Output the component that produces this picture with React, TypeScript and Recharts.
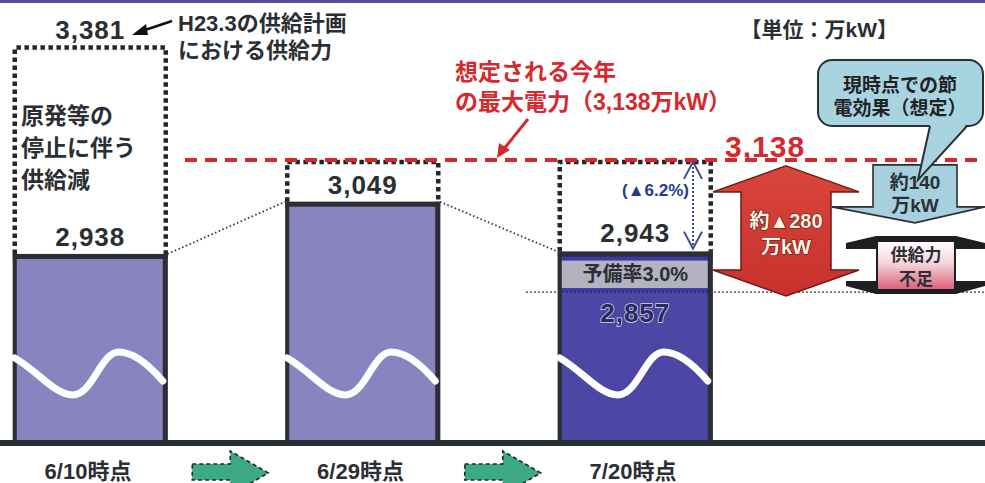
import React from "react"
import { ComposedChart, Bar, XAxis, YAxis, ReferenceLine, LabelList } from "recharts"

// 供給力の推移（単位：万kW）
const periods = ["6/10時点", "6/29時点", "7/20時点"]
const slots = [0, 1, 2]
const baseSupply = [2938, 3049, 2857]
const totalSupply = [2938, 3049, 2943]
const boxTops = [3381, 3138, 3138]
const peakDemand = 3138
const savingEffect = 140

const W = 985
const H = 483
const AXIS_H = 40
const PLOT_BOTTOM = H - AXIS_H
const Y_DOMAIN: [number, number] = [2536, 3478]
const X_DOMAIN: [number, number] = [-0.3303, 3.2844]
const BAR_W = 155
const HALF = ((BAR_W / 2) * (X_DOMAIN[1] - X_DOMAIN[0])) / W

const FONT = "'Liberation Sans', 'Noto Sans CJK JP', sans-serif"
const INK = "#2b2f33"
const RED = "#d7282e"

const fmt = (n: number) => n.toLocaleString("en-US")
const yOf = (v: number) =>
  PLOT_BOTTOM - ((v - Y_DOMAIN[0]) / (Y_DOMAIN[1] - Y_DOMAIN[0])) * PLOT_BOTTOM
const xOf = (s: number) => ((s - X_DOMAIN[0]) / (X_DOMAIN[1] - X_DOMAIN[0])) * W

const chartData = slots.map((slot, i) => {
  const reserve = totalSupply[i] - baseSupply[i]
  return {
    slot,
    base: baseSupply[i],
    reserve,
    gap: boxTops[i] - totalSupply[i],
    topLabel: reserve > 0 ? null : fmt(totalSupply[i]),
    innerLabel: reserve > 0 ? fmt(baseSupply[i]) : null,
    reserveLabel: reserve > 0 ? fmt(totalSupply[i]) : null,
    reserveRate: reserve > 0 ? `予備率${((reserve / baseSupply[i]) * 100).toFixed(1)}%` : null,
    boxLabel: i === 0 ? fmt(boxTops[i]) : null,
  }
})

function BaseShape(props: any) {
  const { x, y, width, height, payload } = props
  const bottom = Math.min(y + height, PLOT_BOTTOM)
  const h = bottom - y
  const dark = payload.reserve > 0
  const wave = `M${x + 2},${bottom - 85} C${x + 25},${bottom - 72} ${x + 42},${bottom - 48} ${x + 60},${bottom - 48} C${x + 80},${bottom - 48} ${x + 88},${bottom - 91} ${x + 106},${bottom - 91} C${x + 122},${bottom - 91} ${x + 138},${bottom - 76} ${x + width - 5},${bottom - 62}`
  return (
    <g>
      <rect x={x} y={y} width={width} height={h} fill={dark ? "#4c46a5" : "#8784c0"} />
      <rect x={x} y={y} width={4} height={h} fill={INK} />
      <rect x={x + width - 5} y={y} width={5} height={h} fill={INK} />
      {!dark && <rect x={x} y={y} width={width} height={5} fill={INK} />}
      <path d={wave} stroke="#fff" strokeWidth={7} fill="none" strokeLinecap="round" />
    </g>
  )
}

function ReserveShape(props: any) {
  const { x, y, width, height, payload } = props
  if (!height || height <= 0) return null
  return (
    <g>
      <rect x={x} y={y} width={width} height={height} fill="#3b39a8" />
      <rect x={x} y={y + 9} width={width} height={height - 13} fill="#b3b2c1" />
      <rect x={x} y={y} width={width} height={5} fill={INK} />
      <rect x={x} y={y} width={4} height={height} fill={INK} />
      <rect x={x + width - 5} y={y} width={5} height={height} fill={INK} />
      <text
        x={x + width / 2}
        y={y + height / 2 + 9}
        textAnchor="middle"
        fontFamily={FONT}
        fontSize={20}
        fontWeight={700}
        fill={INK}
      >
        {payload.reserveRate}
      </text>
    </g>
  )
}

function GapShape(props: any) {
  const { x, y, width, height } = props
  if (!height || height <= 0) return null
  const b = y + height
  return (
    <path
      d={`M${x + 2},${b} L${x + 2},${y + 2} L${x + width - 2},${y + 2} L${x + width - 2},${b}`}
      fill="none"
      stroke="#23272b"
      strokeWidth={4.5}
      strokeDasharray="4.5 3.5"
    />
  )
}

const numLabel = (dy: number, style: any = {}) => (p: any) => {
  if (p.value == null) return null
  return (
    <text
      x={p.x + p.width / 2}
      y={p.y + dy}
      textAnchor="middle"
      fontFamily={FONT}
      fontSize={26}
      fontWeight={700}
      letterSpacing={1}
      fill={INK}
      {...style}
    >
      {p.value}
    </text>
  )
}

function PeriodTick(props: any) {
  const { x, payload } = props
  return (
    <text x={x - 2} y={PLOT_BOTTOM + 36} textAnchor="middle" fontFamily={FONT} fontSize={22} fontWeight={700} fill={INK}>
      {periods[payload.value]}
    </text>
  )
}

function GreenArrow({ cx }: { cx: number }) {
  const l = cx - 38
  const t = cx + 38
  return (
    <path
      d={`M${l},464 L${cx},464 L${cx},451 L${t},473 L${cx},495 L${cx},480 L${l},480 Z`}
      fill="#3daa86"
      stroke="#1f2a26"
      strokeWidth={1.6}
      strokeDasharray="4 3"
    />
  )
}

function Annotations() {
  const peakY = yOf(peakDemand)
  const reserveTopY = yOf(totalSupply[2])
  const baseY = yOf(baseSupply[2])
  const cx = 786
  const top = peakY + 6
  const bot = baseY + 4
  const shortfall = Math.round((peakDemand - baseSupply[2]) / 10) * 10
  const dropRate = (((peakDemand - totalSupply[2]) / peakDemand) * 100).toFixed(1)
  const ax = 693
  return (
    <svg width={W} height={H} style={{ position: "absolute", left: 0, top: 0, pointerEvents: "none" }}>
      <defs>
        <linearGradient id="redArrow" x1="0" y1="0" x2="0" y2="1">
          <stop offset="0" stopColor="#d9463c" />
          <stop offset="1" stopColor="#c8302c" />
        </linearGradient>
        <linearGradient id="pink" x1="0" y1="0" x2="0" y2="1">
          <stop offset="0" stopColor="#ffffff" />
          <stop offset="0.45" stopColor="#f4d6dc" />
          <stop offset="1" stopColor="#dc5d78" />
        </linearGradient>
      </defs>
      <rect x={0} y={0} width={W} height={3} fill="#5a4f96" />

      {/* H23.3 supply plan note */}
      <text x={178} y={31} fontFamily={FONT} fontSize={22} fontWeight={700} fill={INK}>H23.3の供給計画</text>
      <text x={178} y={58} fontFamily={FONT} fontSize={22} fontWeight={700} fill={INK}>における供給力</text>
      <line x1={172} y1={21} x2={142} y2={31} stroke="#111" strokeWidth={2.5} />
      <path d="M132,35 L146,24 L148,35 Z" fill="#111" />

      <text x={898} y={37} textAnchor="end" fontFamily={FONT} fontSize={21} fontWeight={700} fill={INK}>【単位：万kW】</text>

      {/* inside dotted box */}
      <text x={21} y={124} fontFamily={FONT} fontSize={23} fontWeight={700} fill={INK}>原発等の</text>
      <text x={21} y={156} fontFamily={FONT} fontSize={23} fontWeight={700} fill={INK}>停止に伴う</text>
      <text x={21} y={188} fontFamily={FONT} fontSize={23} fontWeight={700} fill={INK}>供給減</text>

      {/* peak demand note */}
      <text x={455} y={80} fontFamily={FONT} fontSize={23} fontWeight={700} fill={RED}>想定される今年</text>
      <text x={455} y={110} fontFamily={FONT} fontSize={23} fontWeight={700} fill={RED}>
        の最大電力（{fmt(peakDemand)}万kW）
      </text>
      <line x1={528} y1={119} x2={503} y2={150} stroke={RED} strokeWidth={3} />
      <path d={`M497,${peakY - 2} L499,143 L510,150 Z`} fill={RED} />
      <text x={725} y={peakY - 3} fontFamily={FONT} fontSize={30} fontWeight={700} letterSpacing={1} fill={RED}>
        {fmt(peakDemand)}
      </text>

      {/* ▲6.2% */}
      <text x={689} y={196} textAnchor="end" fontFamily={FONT} fontSize={17} fontWeight={700} fill="#26398c">
        (▲{dropRate}%)
      </text>
      <line x1={ax} y1={peakY + 3} x2={ax} y2={reserveTopY - 3} stroke="#3b4a9a" strokeWidth={2} strokeDasharray="2 2" />
      <path d={`M${ax - 9},${peakY + 19} L${ax},${peakY + 2} L${ax + 9},${peakY + 19}`} fill="none" stroke="#3b4a9a" strokeWidth={2} />
      <path d={`M${ax - 9},${reserveTopY - 20} L${ax},${reserveTopY - 3} L${ax + 9},${reserveTopY - 20}`} fill="none" stroke="#3b4a9a" strokeWidth={2} />

      {/* red double arrow */}
      <path
        d={`M${cx},${top} L${cx + 73},${top + 26} L${cx + 45},${top + 26} L${cx + 45},${bot - 26} L${cx + 73},${bot - 26} L${cx},${bot} L${cx - 73},${bot - 26} L${cx - 45},${bot - 26} L${cx - 45},${top + 26} L${cx - 73},${top + 26} Z`}
        fill="url(#redArrow)"
        stroke="#6e1a16"
        strokeWidth={1.5}
      />
      <text textAnchor="middle" fontFamily={FONT} fontSize={20} fontWeight={700} fill="#fff6e4" stroke="#5a1410" strokeWidth={1.2} paintOrder="stroke">
        <tspan x={cx} y={top + 62}>約▲{shortfall}</tspan>
        <tspan x={cx} y={top + 88}>万kW</tspan>
      </text>

      {/* saving effect arrow */}
      <path
        d={`M873,${peakY + 5} L957,${peakY + 5} L957,${peakY + 47} L985,${peakY + 47} L915,${peakY + 63} L832,${peakY + 47} L873,${peakY + 47} Z`}
        fill="#a6d0dd"
        stroke="#2b2f33"
        strokeWidth={1.6}
      />
      <text textAnchor="middle" fontFamily={FONT} fontSize={19} fontWeight={700} fill={INK}>
        <tspan x={915} y={peakY + 29}>約{savingEffect}</tspan>
        <tspan x={915} y={peakY + 52}>万kW</tspan>
      </text>

      {/* callout */}
      <rect x={818} y={60} width={165} height={66} rx={14} fill="#a8d4e2" stroke="#2b2f33" strokeWidth={2} />
      <path d={`M930,124 L967,124 L918,${peakY + 20} Z`} fill="#a8d4e2" />
      <path d={`M930,126 L918,${peakY + 20} L967,126`} fill="none" stroke="#2b2f33" strokeWidth={2} />
      <text textAnchor="middle" fontFamily={FONT} fontSize={19} fontWeight={700} fill="#222">
        <tspan x={900} y={92}>現時点での節</tspan>
        <tspan x={900} y={115}>電効果（想定）</tspan>
      </text>

      {/* supply shortage */}
      <path d="M846,249 L846,243 L876,236 L956,236 L985,243 L985,249 Z" fill="#1d1f22" />
      <path d="M846,281 L846,286 L876,294 L956,294 L985,286 L985,281 Z" fill="#1d1f22" />
      <rect x={877} y={241} width={78} height={49} fill="url(#pink)" stroke="#1d1f22" strokeWidth={2} />
      <text textAnchor="middle" fontFamily={FONT} fontSize={17} fontWeight={700} fill={INK}>
        <tspan x={916} y={261}>供給力</tspan>
        <tspan x={916} y={285}>不足</tspan>
      </text>

      <GreenArrow cx={xOf(0.5) + 4} />
      <GreenArrow cx={xOf(1.5) + 4} />
    </svg>
  )
}

export default function App() {
  return (
    <div style={{ position: "relative", width: W, height: H, background: "#fff" }}>
      <style>{"body{margin:0}"}</style>
      <ComposedChart width={W} height={H} data={chartData} margin={{ top: 0, right: 0, bottom: 0, left: 0 }}>
        <XAxis
          type="number"
          dataKey="slot"
          domain={X_DOMAIN}
          ticks={slots}
          allowDataOverflow
          height={AXIS_H}
          tickLine={false}
          axisLine={{ stroke: "#263035", strokeWidth: 6 }}
          tick={<PeriodTick />}
        />
        <YAxis type="number" domain={Y_DOMAIN} allowDataOverflow hide width={0} />
        <Bar dataKey="base" stackId="s" barSize={BAR_W} shape={<BaseShape />} isAnimationActive={false}>
          <LabelList dataKey="topLabel" content={numLabel(-8)} />
          <LabelList
            dataKey="innerLabel"
            content={numLabel(30, { fill: "#2a2a5e", stroke: "#d4d4ec", strokeWidth: 1.5, paintOrder: "stroke" })}
          />
        </Bar>
        <Bar dataKey="reserve" stackId="s" barSize={BAR_W} shape={<ReserveShape />} isAnimationActive={false}>
          <LabelList dataKey="reserveLabel" content={numLabel(-10)} />
        </Bar>
        <Bar dataKey="gap" stackId="s" barSize={BAR_W} shape={<GapShape />} isAnimationActive={false}>
          <LabelList dataKey="boxLabel" content={numLabel(-7)} />
        </Bar>
        <ReferenceLine
          segment={[{ x: 0 + HALF, y: totalSupply[0] }, { x: 1 - HALF, y: totalSupply[1] }]}
          stroke="#333"
          strokeWidth={1.8}
          strokeDasharray="1.5 2.5"
        />
        <ReferenceLine
          segment={[{ x: 1 + HALF, y: totalSupply[1] }, { x: 2 - HALF, y: totalSupply[2] }]}
          stroke="#333"
          strokeWidth={1.8}
          strokeDasharray="1.5 2.5"
        />
        <ReferenceLine
          segment={[{ x: 1.6, y: baseSupply[2] }, { x: X_DOMAIN[1], y: baseSupply[2] }]}
          stroke="#333"
          strokeWidth={1.3}
          strokeDasharray="2 2"
        />
        <ReferenceLine
          segment={[{ x: 0.3486, y: peakDemand }, { x: X_DOMAIN[1], y: peakDemand }]}
          stroke={RED}
          strokeWidth={4}
          strokeDasharray="12 8"
        />
      </ComposedChart>
      <Annotations />
    </div>
  )
}
